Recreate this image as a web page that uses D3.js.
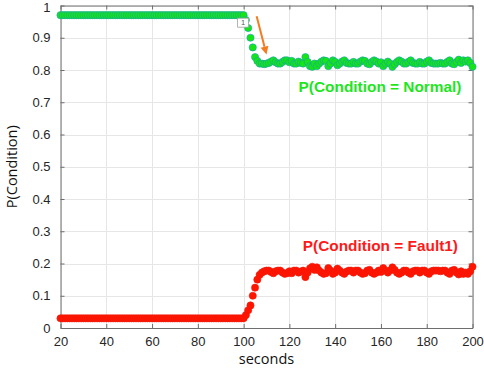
<!DOCTYPE html>
<html>
<head>
<meta charset="utf-8">
<script src="https://cdn.jsdelivr.net/npm/d3@7"></script>
<style>
  html, body { margin: 0; padding: 0; background: #fff; }
  svg { display: block; }
</style>
</head>
<body>
<svg id="chart" width="484" height="369"></svg>
<script>
// ---- data ----
const seconds = d3.range(20, 201); // sample times, 1 s apart (20..200)

const pNormal = [
  0.97,0.97,0.97,0.97,0.97,0.97,0.97,0.97,0.97,0.97, // 20-29
  0.97,0.97,0.97,0.97,0.97,0.97,0.97,0.97,0.97,0.97, // 30-39
  0.97,0.97,0.97,0.97,0.97,0.97,0.97,0.97,0.97,0.97, // 40-49
  0.97,0.97,0.97,0.97,0.97,0.97,0.97,0.97,0.97,0.97, // 50-59
  0.97,0.97,0.97,0.97,0.97,0.97,0.97,0.97,0.97,0.97, // 60-69
  0.97,0.97,0.97,0.97,0.97,0.97,0.97,0.97,0.97,0.97, // 70-79
  0.97,0.97,0.97,0.97,0.97,0.97,0.97,0.97,0.97,0.97, // 80-89
  0.97,0.97,0.97,0.97,0.97,0.97,0.97,0.97,0.97,0.97, // 90-99
  0.97,0.955,0.93,0.90,0.87,0.84,0.828,0.82,0.82,0.818, // 100-109
  0.82,0.822,0.826,0.83,0.824,0.82,0.82,0.825,0.83,0.83, // 110-119
  0.824,0.828,0.82,0.82,0.826,0.822,0.82,0.84,0.825,0.812, // 120-129
  0.81,0.82,0.812,0.82,0.826,0.83,0.828,0.812,0.82,0.83, // 130-139
  0.825,0.815,0.82,0.826,0.83,0.822,0.82,0.82,0.825,0.82, // 140-149
  0.82,0.826,0.83,0.828,0.82,0.818,0.825,0.83,0.826,0.82, // 150-159
  0.824,0.812,0.82,0.826,0.82,0.81,0.818,0.825,0.83,0.826, // 160-169
  0.82,0.82,0.825,0.83,0.822,0.82,0.82,0.825,0.82,0.82, // 170-179
  0.826,0.83,0.822,0.82,0.82,0.82,0.822,0.82,0.82,0.825, // 180-189
  0.83,0.82,0.818,0.825,0.832,0.822,0.83,0.826,0.83,0.822, // 190-199
  0.81 // 200
];

const pFault1 = [
  0.03,0.03,0.03,0.03,0.03,0.03,0.03,0.03,0.03,0.03, // 20-29
  0.03,0.03,0.03,0.03,0.03,0.03,0.03,0.03,0.03,0.03, // 30-39
  0.03,0.03,0.03,0.03,0.03,0.03,0.03,0.03,0.03,0.03, // 40-49
  0.03,0.03,0.03,0.03,0.03,0.03,0.03,0.03,0.03,0.03, // 50-59
  0.03,0.03,0.03,0.03,0.03,0.03,0.03,0.03,0.03,0.03, // 60-69
  0.03,0.03,0.03,0.03,0.03,0.03,0.03,0.03,0.03,0.03, // 70-79
  0.03,0.03,0.03,0.03,0.03,0.03,0.03,0.03,0.03,0.03, // 80-89
  0.03,0.03,0.03,0.03,0.03,0.03,0.03,0.03,0.03,0.03, // 90-99
  0.03,0.04,0.055,0.07,0.10,0.125,0.15,0.165,0.172,0.176, // 100-109
  0.178,0.178,0.174,0.17,0.176,0.178,0.178,0.172,0.168,0.17, // 110-119
  0.176,0.17,0.178,0.178,0.172,0.175,0.178,0.158,0.172,0.185, // 120-129
  0.19,0.18,0.188,0.178,0.172,0.168,0.17,0.186,0.178,0.168, // 130-139
  0.172,0.184,0.178,0.172,0.168,0.175,0.178,0.178,0.172,0.178, // 140-149
  0.178,0.172,0.168,0.17,0.178,0.18,0.172,0.168,0.172,0.178, // 150-159
  0.174,0.186,0.178,0.172,0.178,0.188,0.18,0.172,0.168,0.172, // 160-169
  0.178,0.178,0.172,0.168,0.176,0.178,0.178,0.172,0.178,0.178, // 170-179
  0.172,0.168,0.176,0.178,0.178,0.178,0.176,0.178,0.178,0.172, // 180-189
  0.168,0.178,0.18,0.172,0.166,0.176,0.168,0.172,0.168,0.176, // 190-199
  0.19 // 200
];

const xTicks = [20, 40, 60, 80, 100, 120, 140, 160, 180, 200];
const yTicks = [0, 0.1, 0.2, 0.3, 0.4, 0.5, 0.6, 0.7, 0.8, 0.9, 1];
const yTickLabels = ["0","0.1","0.2","0.3","0.4","0.5","0.6","0.7","0.8","0.9","1"];

const labelNormal = "P(Condition = Normal)";
const labelFault = "P(Condition = Fault1)";
const xTitle = "seconds";
const yTitle = "P(Condition)";
const tipText = "1";
const tipAt = [100, 0.97];
const arrowFrom = [105.7, 0.967];
const arrowTo = [110.0, 0.848];

// ---- layout ----
const svg = d3.select("#chart");
const L = 60.5, R = 472.5, T = 5.5, B = 328;
const x = d3.scaleLinear().domain([20, 200]).range([L, R]);
const y = d3.scaleLinear().domain([0, 1]).range([B, T]);

const axisColor = "#262626";

// grid
const grid = svg.append("g");
grid.selectAll("line.gx").data(xTicks).join("line")
  .attr("x1", d => Math.round(x(d)) + 0.5).attr("x2", d => Math.round(x(d)) + 0.5)
  .attr("y1", T).attr("y2", B)
  .attr("stroke", "#e6e6e6").attr("stroke-width", 1);
grid.selectAll("line.gy").data(yTicks).join("line")
  .attr("y1", d => Math.round(y(d)) + 0.5).attr("y2", d => Math.round(y(d)) + 0.5)
  .attr("x1", L).attr("x2", R)
  .attr("stroke", "#e6e6e6").attr("stroke-width", 1);

// axes (MATLAB style: inward ticks on all sides)
const tickLen = 4;
const fmtY = (d, i) => yTickLabels[i];
const xb = svg.append("g").attr("transform", `translate(0,${B})`)
  .call(d3.axisBottom(x).tickValues(xTicks).tickSizeInner(-tickLen).tickSizeOuter(0).tickPadding(9));
const xt = svg.append("g").attr("transform", `translate(0,${T})`)
  .call(d3.axisTop(x).tickValues(xTicks).tickSizeInner(-tickLen).tickSizeOuter(0).tickFormat(""));
const yl = svg.append("g").attr("transform", `translate(${L},0)`)
  .call(d3.axisLeft(y).tickValues(yTicks).tickSizeInner(-tickLen).tickSizeOuter(0).tickPadding(10).tickFormat(fmtY));
const yr = svg.append("g").attr("transform", `translate(${R},0)`)
  .call(d3.axisRight(y).tickValues(yTicks).tickSizeInner(-tickLen).tickSizeOuter(0).tickFormat(""));

[xb, xt, yl, yr].forEach(g => {
  g.select(".domain").attr("stroke", "#6e6e6e").attr("stroke-width", 1);
  g.selectAll(".tick line").attr("stroke", "#6e6e6e");
  g.selectAll("text").attr("fill", axisColor)
    .style("font-family", "'Liberation Sans', Arial, sans-serif").style("font-size", "13px");
});
// keep the top label "1" inside the picture
yl.selectAll(".tick text").filter(d => d === 1).attr("dy", "0.45em");

// series
const ptsF = seconds.map((s, i) => [s, pFault1[i]]);
const ptsN = seconds.map((s, i) => [s, pNormal[i]]);

svg.append("g").selectAll("circle").data(ptsF).join("circle")
  .attr("cx", d => x(d[0])).attr("cy", d => y(d[1])).attr("r", 3.6)
  .attr("fill", "#ff1400").attr("stroke", "#f01a0a").attr("stroke-width", 0.6);

svg.append("g").selectAll("circle").data(ptsN).join("circle")
  .attr("cx", d => x(d[0])).attr("cy", d => y(d[1])).attr("r", 3.6)
  .attr("fill", "#14e614").attr("stroke", "#1aa0b8").attr("stroke-width", 0.6);

// data tip "1"
const tip = svg.append("g").attr("transform", `translate(${x(tipAt[0]) - 6},${y(tipAt[1]) + 3})`);
tip.append("rect").attr("x", 0).attr("y", 0).attr("width", 11).attr("height", 9)
  .attr("fill", "#fff").attr("stroke", "#a0a0a0").attr("stroke-width", 0.8);
tip.append("text").attr("x", 5.5).attr("y", 7.3).attr("text-anchor", "middle")
  .style("font-family", "'Liberation Sans', Arial, sans-serif").style("font-size", "7.5px")
  .attr("fill", "#555").text(tipText);

// orange arrow
const ax1 = x(arrowFrom[0]), ay1 = y(arrowFrom[1]), ax2 = x(arrowTo[0]), ay2 = y(arrowTo[1]);
const ang = Math.atan2(ay2 - ay1, ax2 - ax1);
const hl = 8, hw = 4;
const bx = ax2 - hl * Math.cos(ang), by = ay2 - hl * Math.sin(ang);
svg.append("line").attr("x1", ax1).attr("y1", ay1).attr("x2", bx).attr("y2", by)
  .attr("stroke", "#f47c20").attr("stroke-width", 2);
svg.append("path")
  .attr("d", d3.line()([
    [ax2, ay2],
    [bx + hw * Math.sin(ang), by - hw * Math.cos(ang)],
    [bx - hw * Math.sin(ang), by + hw * Math.cos(ang)]
  ]) + "Z")
  .attr("fill", "#f47c20");

// series labels
svg.append("text").attr("x", 461.5).attr("y", 91.5).attr("text-anchor", "end")
  .style("font-family", "'Liberation Sans', Arial, sans-serif").style("font-size", "15.4px")
  .style("font-weight", "bold").attr("fill", "#1ee61e").text(labelNormal);
svg.append("text").attr("x", 458).attr("y", 251).attr("text-anchor", "end")
  .style("font-family", "'Liberation Sans', Arial, sans-serif").style("font-size", "15.4px")
  .style("font-weight", "bold").attr("fill", "#ff1a1a").text(labelFault);

// axis titles
svg.append("text").attr("x", (L + R) / 2).attr("y", 364).attr("text-anchor", "middle")
  .style("font-family", "'Open Sans', sans-serif").style("font-size", "14.5px")
  .attr("fill", "#111").text(xTitle);
svg.append("text").attr("transform", `translate(17,${(T + B) / 2}) rotate(-90)`)
  .attr("text-anchor", "middle")
  .style("font-family", "'Open Sans', sans-serif").style("font-size", "14.5px")
  .attr("fill", "#111").text(yTitle);
</script>
</body>
</html>
